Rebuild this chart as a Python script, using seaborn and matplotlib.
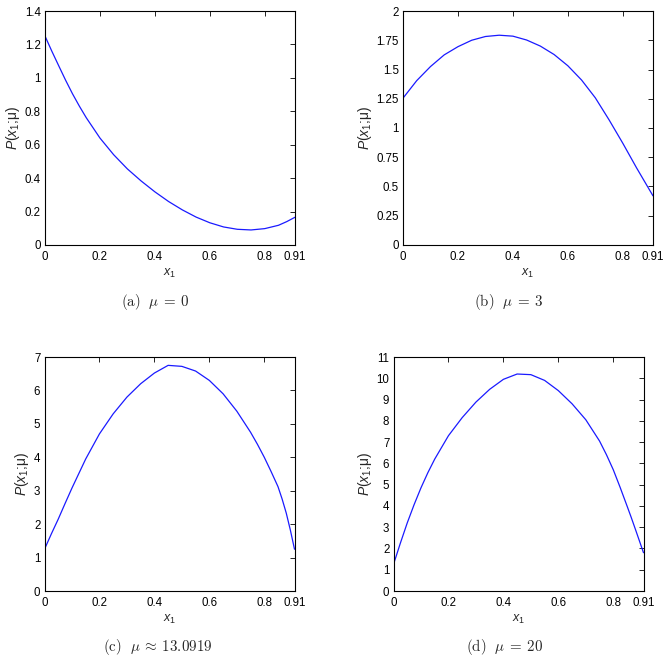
import numpy as np
import pandas as pd
import matplotlib
matplotlib.use("Agg")
import matplotlib.pyplot as plt
import seaborn as sns

# ---- data ----
x_a = [0, 0.025, 0.05, 0.075, 0.1, 0.125, 0.15, 0.2, 0.25, 0.3, 0.35, 0.4, 0.45, 0.5, 0.55,
       0.6, 0.65, 0.7, 0.75, 0.8, 0.85, 0.88, 0.91]
p_a = [1.25, 1.159, 1.072, 0.986, 0.905, 0.831, 0.762, 0.64, 0.54, 0.455, 0.383, 0.318, 0.26, 0.21, 0.167,
       0.133, 0.108, 0.094, 0.09, 0.098, 0.118, 0.14, 0.166]

x_b = [0, 0.05, 0.1, 0.15, 0.2, 0.25, 0.3, 0.35, 0.4, 0.45, 0.5, 0.55, 0.6, 0.65, 0.7, 0.75, 0.8, 0.85, 0.91]
p_b = [1.255, 1.405, 1.525, 1.625, 1.695, 1.75, 1.782, 1.793, 1.785, 1.752, 1.70, 1.628, 1.532, 1.41, 1.258, 1.07, 0.87, 0.66, 0.42]

x_c = [0, 0.025, 0.05, 0.075, 0.1, 0.15, 0.2, 0.25, 0.3, 0.35, 0.4, 0.45, 0.5, 0.55, 0.6, 0.65, 0.7,
       0.75, 0.775, 0.8, 0.825, 0.85, 0.865, 0.88, 0.895, 0.91]
p_c = [1.25, 1.71, 2.15, 2.62, 3.08, 3.95, 4.7, 5.3, 5.8, 6.2, 6.52, 6.75, 6.72, 6.58, 6.3, 5.9, 5.38,
       4.75, 4.39, 4.0, 3.57, 3.12, 2.75, 2.33, 1.82, 1.25]

x_d = [0, 0.025, 0.05, 0.075, 0.1, 0.125, 0.15, 0.2, 0.25, 0.3, 0.35, 0.4, 0.45, 0.5, 0.55, 0.6, 0.65, 0.7,
       0.75, 0.775, 0.8, 0.825, 0.85, 0.865, 0.88, 0.895, 0.91]
p_d = [1.25, 2.25, 3.2, 4.06, 4.85, 5.56, 6.2, 7.3, 8.15, 8.88, 9.48, 9.95, 10.2, 10.17, 9.9, 9.42, 8.8, 8.05,
       7.05, 6.41, 5.7, 4.87, 4.0, 3.47, 2.92, 2.36, 1.8]

x_ticks = [0, 0.2, 0.4, 0.6, 0.8, 0.91]
x_tick_labels = ["0", "0.2", "0.4", "0.6", "0.8", "0.91"]

y_ticks_a = [0, 0.2, 0.4, 0.6, 0.8, 1.0, 1.2, 1.4]
y_labels_a = ["0", "0.2", "0.4", "0.6", "0.8", "1", "1.2", "1.4"]
y_ticks_b = [0, 0.25, 0.5, 0.75, 1.0, 1.25, 1.5, 1.75, 2.0]
y_labels_b = ["0", "0.25", "0.5", "0.75", "1", "1.25", "1.5", "1.75", "2"]
y_ticks_c = list(range(0, 8))
y_labels_c = [str(v) for v in y_ticks_c]
y_ticks_d = list(range(0, 12))
y_labels_d = [str(v) for v in y_ticks_d]

captions = [r"$\mathrm{(a)}\ \ \mu\:=\:0$", r"$\mathrm{(b)}\ \ \mu\:=\:3$",
            r"$\mathrm{(c)}\ \ \mu\:\approx\:13.0919$", r"$\mathrm{(d)}\ \ \mu\:=\:20$"]

# ---- style ----
sns.set_style("white")
plt.rcParams["font.family"] = ["Liberation Sans", "DejaVu Sans"]
plt.rcParams["mathtext.fontset"] = "custom"
plt.rcParams["mathtext.rm"] = "Liberation Sans"
plt.rcParams["mathtext.it"] = "Liberation Sans:italic"
plt.rcParams["mathtext.bf"] = "Liberation Sans:bold"

W, H = 663, 664
fig = plt.figure(figsize=(W / 100, H / 100), dpi=100)
fig.patch.set_facecolor("white")

# axes boxes in pixels: left, top, right, bottom
boxes = [(45, 11, 295, 245), (403, 11, 653, 245), (44.5, 357, 294.5, 591), (393.5, 357, 643.5, 591)]
panels = [(x_a, p_a, y_ticks_a, y_labels_a),
          (x_b, p_b, y_ticks_b, y_labels_b),
          (x_c, p_c, y_ticks_c, y_labels_c),
          (x_d, p_d, y_ticks_d, y_labels_d)]
cap_pos = [(155, 302), (509, 302), (158, 647), (504, 647)]

for (l, t, r, b), (xs, ps, yt, yl), cap, (cx, cy) in zip(boxes, panels, captions, cap_pos):
    ax = fig.add_axes([l / W, 1 - b / H, (r - l) / W, (b - t) / H])
    df = pd.DataFrame({"x1": xs, "P": ps})
    sns.lineplot(data=df, x="x1", y="P", ax=ax, color="#1a1aff", linewidth=0.9)
    ax.set_xlim(0, 0.91)
    ax.set_ylim(yt[0], yt[-1])
    ax.set_xticks(x_ticks)
    ax.set_xticklabels(x_tick_labels)
    ax.set_yticks(yt)
    ax.set_yticklabels(yl)
    ax.tick_params(direction="in", length=3.5, width=0.6, top=True, right=True,
                   labelsize=8.3, colors="black")
    ax.tick_params(axis="x", pad=4.5)
    ax.tick_params(axis="y", pad=3)
    for s in ax.spines.values():
        s.set_visible(True)
        s.set_linewidth(0.8)
        s.set_color("black")
    ax.set_xlabel("$x_1$", fontsize=9, labelpad=2.5)
    ax.set_ylabel("$P(x_1$;μ)", fontsize=10, labelpad=2)
    fig.text(cx / W, 1 - cy / H, cap, ha="center", va="center", fontsize=10.8,
             math_fontfamily="cm")

fig.savefig("out.png", dpi=100, facecolor="white")
